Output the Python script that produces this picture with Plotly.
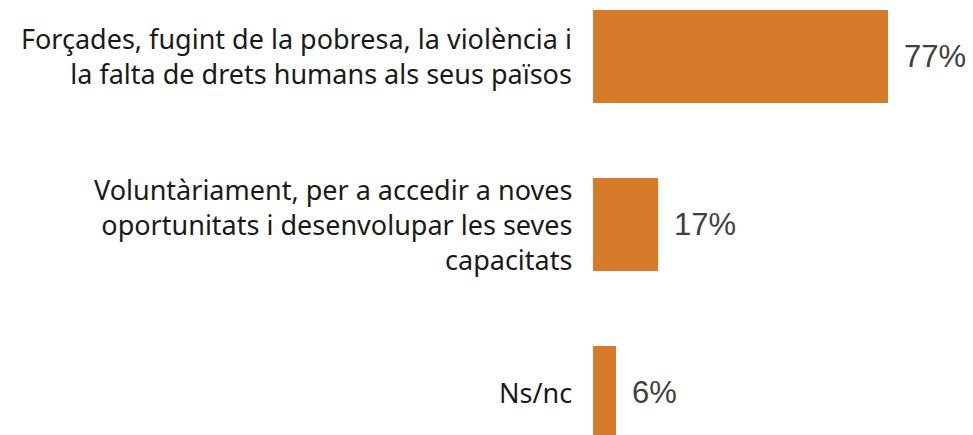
"""
    Barres horitzontals : motius de la migració
    """
from plotly.graph_objects import Bar, Figure

# donnees
categories = [
    "Forçades, fugint de la pobresa, la violència i<br>la falta de drets humans als seus països",
    "Voluntàriament, per a accedir a noves<br>oportunitats i desenvolupar les seves<br>capacitats",
    "Ns/nc",
]
valors = [77, 17, 6]
etiquetes = ["77%", "17%", "6%"]

COLOR_BARRA = "#D57B2A"
FONT_ETIQ = "Noto Sans"


def main():
    """Main
    """
    fig = Figure()
    fig.add_trace(Bar(
        x=valors, y=list(range(len(categories))), orientation="h",
        marker_color=COLOR_BARRA, marker_line_width=0, width=0.554,
        hoverinfo="skip",
    ))

    anns = []
    for i, cat in enumerate(categories):
        # etiquette de categorie, alignee a droite contre la barre
        anns.append(dict(
            x=0, xref="paper", y=i, yref="y", text=cat,
            showarrow=False, xanchor="right", yanchor="middle", align="right",
            xshift=-19,
            font=dict(family=FONT_ETIQ, size=27, color="#1a1a1a"),
        ))
        # valeur a droite de la barre
        anns.append(dict(
            x=valors[i], xref="x", y=i, yref="y", text=etiquetes[i],
            showarrow=False, xanchor="left", yanchor="middle", xshift=14,
            font=dict(family="Liberation Sans, Arial", size=31, color="#404040"),
        ))

    fig.update_layout(
        width=973, height=435,
        margin=dict(l=593, r=0, t=0, b=0, autoexpand=False),
        paper_bgcolor="white", plot_bgcolor="white",
        showlegend=False,
        xaxis=dict(range=[0, 99.19], visible=False),
        yaxis=dict(range=[2.253, -0.336], visible=False),
        annotations=anns,
    )
    # pas de marge du body, sinon tout est decale de 8 px
    fig.write_html("out.html", config={"displayModeBar": False},
                   post_script="document.body.style.margin='0';")


if __name__ == "__main__":
    main()
